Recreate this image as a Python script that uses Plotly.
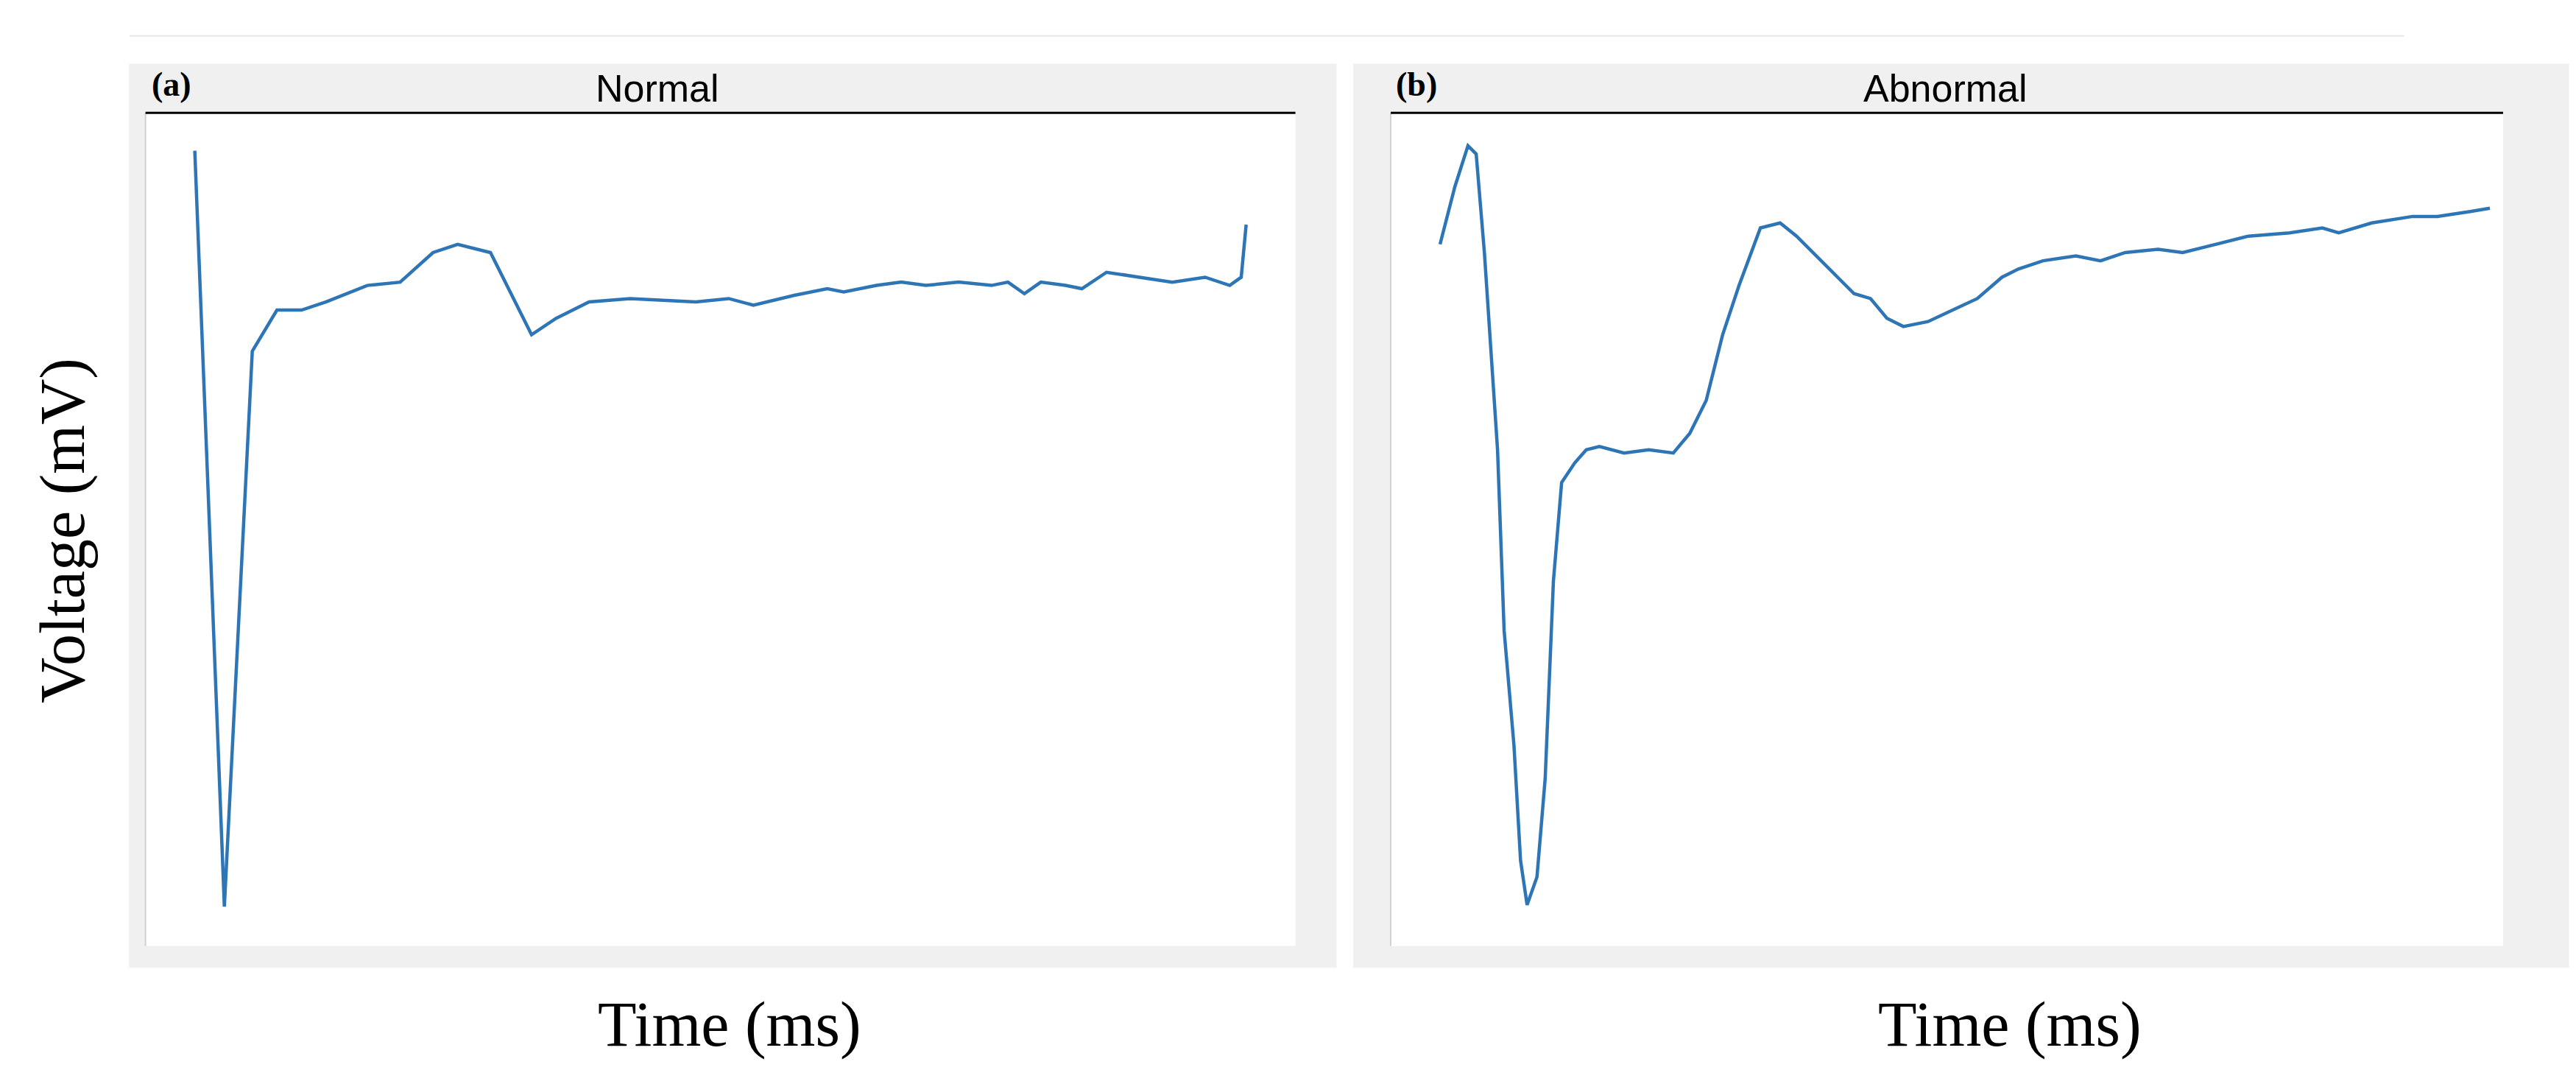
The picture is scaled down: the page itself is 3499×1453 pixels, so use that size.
import plotly.graph_objects as go

# Normal (time units, voltage units - arbitrary)
t_norm = [30,48,65,80,95,110,135,155,175,190,210,225,235,250,270,295,335,355,370,395,415,425,445,460,475,495,515,525,535,545,560,570,585,605,625,645,660,667,670]
v_norm = [484,24,362,387,387,392,402,404,422,427,422,392,372,382,392,394,392,394,390,396,400,398,402,404,402,404,402,404,397,404,402,400,410,407,404,407,402,407,439]
# Abnormal
t_abn = [30,39,47,52,57,65,69,75,79,83,89,94,99,104,112,119,127,142,157,172,182,192,202,212,225,237,247,262,282,292,302,312,327,342,357,372,382,397,417,432,447,467,482,502,522,547,567,577,597,622,637,657,669]
v_abn = [427,462,487,482,422,302,192,122,52,25,42,102,222,282,294,302,304,300,302,300,312,332,372,402,437,440,432,417,397,394,382,377,380,387,394,407,412,417,420,417,422,424,422,427,432,434,437,434,440,444,444,447,449]

fig = go.Figure()
line = dict(color="#2e75b6", width=4.5)
fig.add_trace(go.Scatter(x=t_norm, y=v_norm, mode="lines", line=line, xaxis="x", yaxis="y", showlegend=False))
fig.add_trace(go.Scatter(x=t_abn, y=v_abn, mode="lines", line=line, xaxis="x2", yaxis="y2", showlegend=False))

ax = dict(showticklabels=False, showgrid=False, zeroline=False, ticks="", showline=False, fixedrange=True)
fig.update_layout(
    width=3499, height=1453, margin=dict(l=0, r=0, t=0, b=0),
    paper_bgcolor="white", plot_bgcolor="rgba(0,0,0,0)",
    xaxis=dict(domain=[0.0542, 0.5006], range=[0, 700], **ax),
    yaxis=dict(domain=[0.1214, 0.900], range=[0, 507], **ax),
    xaxis2=dict(domain=[0.5376, 0.9694], range=[0, 677], anchor="y2", **ax),
    yaxis2=dict(domain=[0.1214, 0.900], range=[0, 507], anchor="x2", **ax),
)
shapes = []
for gx0, gx1, px0, px1 in [(0.0478, 0.5166, 0.0542, 0.5006), (0.523, 0.995, 0.5376, 0.9694)]:
    shapes.append(dict(type="rect", xref="paper", yref="paper", x0=gx0, x1=gx1, y0=0.101, y1=0.946,
                       fillcolor="#f0f0f0", line=dict(width=0), layer="below"))
    shapes.append(dict(type="rect", xref="paper", yref="paper", x0=px0, x1=px1, y0=0.1214, y1=0.900,
                       fillcolor="white", line=dict(width=0), layer="below"))
    shapes.append(dict(type="line", xref="paper", yref="paper", x0=px0, x1=px0, y0=0.1214, y1=0.900,
                       line=dict(color="#d0d0d0", width=2)))
    shapes.append(dict(type="line", xref="paper", yref="paper", x0=px0, x1=px1, y0=0.900, y1=0.900,
                       line=dict(color="black", width=3)))
shapes.append(dict(type="line", xref="paper", yref="paper", x0=0.048, x1=0.931, y0=0.972, y1=0.972,
                   line=dict(color="#e6e6e6", width=2)))
fig.update_layout(shapes=shapes)

tf = "Liberation Serif"
ann = [
    dict(text="<b>(a)</b>", x=0.056, y=0.927, font=dict(family=tf, size=46)),
    dict(text="<b>(b)</b>", x=0.539, y=0.927, font=dict(family=tf, size=46)),
    dict(text="Normal", x=0.253, y=0.923, xanchor="center", font=dict(family="Liberation Sans", size=52)),
    dict(text="Abnormal", x=0.753, y=0.923, xanchor="center", font=dict(family="Liberation Sans", size=52)),
    dict(text="Time (ms)", x=0.281, y=0.048, xanchor="center", font=dict(family=tf, size=86)),
    dict(text="Time (ms)", x=0.778, y=0.048, xanchor="center", font=dict(family=tf, size=86)),
    dict(text="Voltage (mV)", x=0.022, y=0.51, xanchor="center", textangle=-90, font=dict(family=tf, size=86)),
]
for a in ann:
    a.setdefault("xanchor", "left")
    a.update(xref="paper", yref="paper", yanchor="middle", showarrow=False)
    a["font"]["color"] = "black"
fig.update_layout(annotations=ann)
fig.write_html("out.html")
